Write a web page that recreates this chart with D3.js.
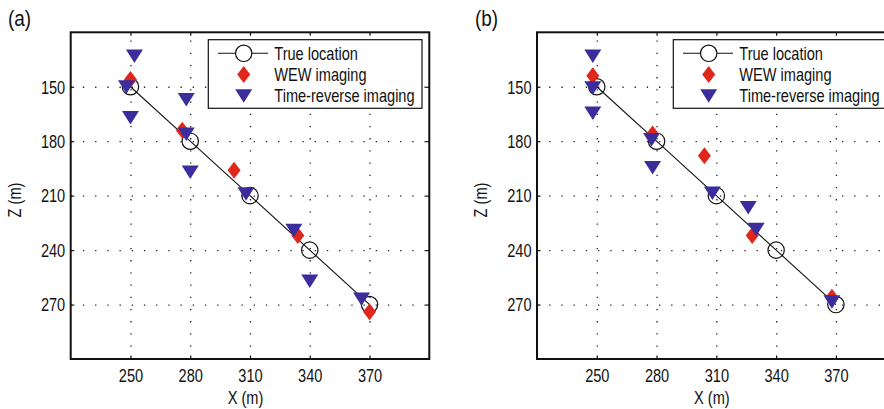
<!DOCTYPE html>
<html><head><meta charset="utf-8">
<script src="https://cdn.jsdelivr.net/npm/d3@7"></script>
<style>
html,body{margin:0;padding:0;background:#fff;}
svg{display:block;}
text{font-family:"Liberation Sans",Arial,sans-serif;fill:#111;}
</style></head>
<body>
<svg id="c" width="884" height="409"></svg>
<script>
// ---- data ----
const xTicks = [250, 280, 310, 340, 370];
const zTicks = [150, 180, 210, 240, 270];
const trueX = [250, 280, 310, 340, 370];
const trueZ = [150, 180, 210, 240, 270];

const wewAX = [250, 276, 302, 334, 370];
const wewAZ = [146, 174, 196, 232, 274];
const trAX = [252, 248, 250, 278, 278, 280, 308, 332, 340, 366];
const trAZ = [133, 150, 167, 157, 176, 197, 209, 229, 257, 267];

const wewBX = [248, 278, 304, 328, 368];
const wewBZ = [144, 176, 188, 232, 266];
const trBX = [248, 248, 248, 277.5, 278, 308, 326, 330, 368];
const trBZ = [133, 150.5, 164.5, 179, 194.5, 208.5, 216.5, 228.5, 268.5];

const panelLabels = ["(a)", "(b)"];
const legendLabels = ["True location", "WEW imaging", "Time-reverse imaging"];
const xLabel = "X (m)";
const zLabel = "Z (m)";

const RED = "#e0271c";
const BLUE = "#3b2d9c";
const SX = 0.81; // horizontal compression of the condensed font

const svg = d3.select("#c");
const diamond = "M0,-8.5L6.5,0L0,8.5L-6.5,0Z";
const tri = "M-8.5,-6.5L8.5,-6.5L0,7Z";

// place a condensed text at (x,y) with optional rotation
function ctext(parent, x, y, str, size, anchor, rot, sx) {
  return parent.append("text")
    .attr("transform", `translate(${x},${y})` + (rot ? ` rotate(${rot})` : "") + ` scale(${sx || SX},1)`)
    .attr("text-anchor", anchor || "start").attr("font-size", size).text(str);
}

function panel(opts) {
  const {x0, x1, lab, labX, wx, wz, tx, tz, legX, zLabX} = opts;
  const top = 32.3, bot = 359;
  const x = d3.scaleLinear().domain([220, 400]).range([x0, x1]);
  const y = d3.scaleLinear().domain([120, 300]).range([top, bot]);
  const g = svg.append("g");

  // grid (dotted)
  const gx = g.append("g").attr("transform", `translate(0,${bot})`)
    .call(d3.axisBottom(x).tickValues(xTicks).tickSize(-(bot - top)).tickFormat(""));
  gx.select(".domain").remove();
  gx.selectAll("line").attr("stroke", "#222").attr("stroke-width", 1.3).attr("stroke-dasharray", "1.3,10.9");
  const gy = g.append("g").attr("transform", `translate(${x0},0)`)
    .call(d3.axisLeft(y).tickValues(zTicks).tickSize(-(x1 - x0)).tickFormat(""));
  gy.select(".domain").remove();
  gy.selectAll("line").attr("stroke", "#222").attr("stroke-width", 1.3).attr("stroke-dasharray", "1.3,10.9");

  // axes with inward ticks
  const ab = g.append("g").attr("transform", `translate(0,${bot})`)
    .call(d3.axisBottom(x).tickValues(xTicks).tickSizeInner(-3.5).tickSizeOuter(0).tickPadding(8));
  const at = g.append("g").attr("transform", `translate(0,${top})`)
    .call(d3.axisTop(x).tickValues(xTicks).tickSizeInner(-3.5).tickSizeOuter(0).tickFormat(""));
  const al = g.append("g").attr("transform", `translate(${x0},0)`)
    .call(d3.axisLeft(y).tickValues(zTicks).tickSizeInner(-3.5).tickSizeOuter(0).tickPadding(5));
  const ar = g.append("g").attr("transform", `translate(${x1},0)`)
    .call(d3.axisRight(y).tickValues(zTicks).tickSizeInner(-3.5).tickSizeOuter(0).tickFormat(""));
  [ab, at, al, ar].forEach(a => {
    a.select(".domain").remove();
    a.selectAll("line").attr("stroke", "#111").attr("stroke-width", 1.2);
    a.selectAll("text").attr("font-size", 18).attr("font-family", null).attr("fill", "#111");
  });
  ab.selectAll("text").attr("dy", null).attr("y", null)
    .attr("transform", `translate(0,22.5) scale(${SX},1)`);
  al.selectAll("text").attr("dy", "0.35em").attr("x", null)
    .attr("transform", `translate(-5.5,0) scale(${SX},1)`);

  // frame
  g.append("rect").attr("x", x0).attr("y", top).attr("width", x1 - x0).attr("height", bot - top)
    .attr("fill", "none").attr("stroke", "#111").attr("stroke-width", 2);

  // true locations
  const line = d3.line().x((d, i) => x(trueX[i])).y((d, i) => y(trueZ[i]));
  g.append("path").attr("d", line(trueX)).attr("fill", "none").attr("stroke", "#111").attr("stroke-width", 1.1);
  g.selectAll(".tc").data(trueX).enter().append("circle")
    .attr("cx", (d) => x(d)).attr("cy", (d, i) => y(trueZ[i])).attr("r", 8.2)
    .attr("fill", "none").attr("stroke", "#111").attr("stroke-width", 1.2);

  // WEW
  g.selectAll(".wd").data(wx).enter().append("path").attr("d", diamond)
    .attr("transform", (d, i) => `translate(${x(d)},${y(wz[i])})`).attr("fill", RED);
  // TR
  g.selectAll(".tt").data(tx).enter().append("path").attr("d", tri)
    .attr("transform", (d, i) => `translate(${x(d)},${y(tz[i])})`).attr("fill", BLUE);

  // labels
  ctext(svg, labX, 26, lab, 22, "start", 0, 0.86);
  ctext(svg, (x0 + x1) / 2 - 4.5, 403.5, xLabel, 18, "middle");
  ctext(svg, zLabX, 200, zLabel, 18, "middle", -90);

  // legend
  const lg = svg.append("g");
  lg.append("rect").attr("x", legX).attr("y", 39.7).attr("width", 213.7).attr("height", 68.6)
    .attr("fill", "#fff").attr("stroke", "#111").attr("stroke-width", 1.2);
  const rows = [53.3, 74.6, 95.8];
  const mx = legX + 35.4;
  lg.append("line").attr("x1", legX + 9.7).attr("x2", legX + 59.7).attr("y1", rows[0]).attr("y2", rows[0])
    .attr("stroke", "#111").attr("stroke-width", 1.1);
  lg.append("circle").attr("cx", mx).attr("cy", rows[0]).attr("r", 8.2).attr("fill", "#fff")
    .attr("stroke", "#111").attr("stroke-width", 1.2);
  lg.append("path").attr("d", diamond).attr("transform", `translate(${mx},${rows[1]})`).attr("fill", RED);
  lg.append("path").attr("d", tri).attr("transform", `translate(${mx},${rows[2]})`).attr("fill", BLUE);
  legendLabels.forEach((t, i) => {
    ctext(lg, legX + 66, rows[i], t, 18, "start").attr("dy", "0.36em");
  });
}

panel({x0: 70.7, x1: 429.3, lab: panelLabels[0], labX: 8, wx: wewAX, wz: wewAZ, tx: trAX, tz: trAZ, legX: 208.3, zLabX: 20.5});
panel({x0: 537, x1: 895.7, lab: panelLabels[1], labX: 475, wx: wewBX, wz: wewBZ, tx: trBX, tz: trBZ, legX: 673.3, zLabX: 486.5});
</script>
</body></html>
